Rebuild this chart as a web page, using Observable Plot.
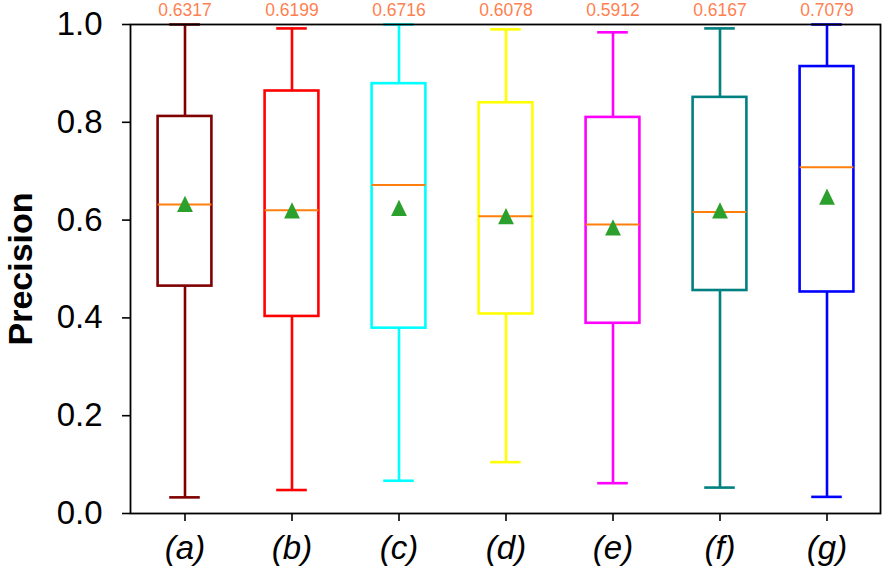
<!DOCTYPE html>
<html>
<head>
<meta charset="utf-8">
<script src="https://cdn.jsdelivr.net/npm/d3@7"></script>
<script src="https://cdn.jsdelivr.net/npm/@observablehq/plot@0.6"></script>
<style>
  body { margin: 0; background: #fff; }
  #chart svg { display: block; }
</style>
</head>
<body>
<div id="chart"></div>
<script>
const categories = ["(a)", "(b)", "(c)", "(d)", "(e)", "(f)", "(g)"];
const colors = ["#800000", "#ff0000", "#00ffff", "#ffff00", "#ff00ff", "#008080", "#0000ff"];
const whiskerLow = [0.033, 0.048, 0.067, 0.105, 0.062, 0.053, 0.034];
const q1 = [0.465, 0.403, 0.379, 0.408, 0.389, 0.456, 0.453];
const medians = [0.6317, 0.6199, 0.6716, 0.6078, 0.5912, 0.6167, 0.7079];
const q3 = [0.812, 0.864, 0.879, 0.840, 0.810, 0.851, 0.914];
const whiskerHigh = [1.0, 0.992, 1.0, 0.990, 0.984, 0.992, 1.0];
const means = [0.633, 0.620, 0.625, 0.608, 0.585, 0.620, 0.648];
const yTicks = [0, 0.2, 0.4, 0.6, 0.8, 1.0];

const data = categories.map((c, i) => ({
  cat: c, lo: whiskerLow[i], q1: q1[i], med: medians[i], q3: q3[i], hi: whiskerHigh[i], mean: means[i]
}));

const font = "'Liberation Sans', Arial, Helvetica, sans-serif";

// matplotlib-like triangle (bbox centred)
const triangle = {
  draw(context, size) {
    const s = Math.sqrt(size) / 2;
    context.moveTo(0, -s);
    context.lineTo(s * 0.97, s);
    context.lineTo(-s * 0.97, s);
    context.closePath();
  }
};

const boxInset = 26.6;
const capInset = 38.2;

const chart = Plot.plot({
  width: 886,
  height: 574,
  marginLeft: 130,
  marginRight: 6,
  marginTop: 24,
  marginBottom: 61,
  style: { fontFamily: font, background: "white", overflow: "visible" },
  x: { type: "band", domain: categories, padding: 0 },
  y: { domain: [0, 1] },
  color: { domain: categories, range: colors },
  marks: [
    // whiskers
    Plot.ruleX(data, { x: "cat", y1: "lo", y2: "q1", stroke: "cat", strokeWidth: 2.6 }),
    Plot.ruleX(data, { x: "cat", y1: "q3", y2: "hi", stroke: "cat", strokeWidth: 2.6 }),
    // caps
    Plot.tickY(data, { x: "cat", y: "lo", stroke: "cat", strokeWidth: 2.6, inset: capInset }),
    Plot.tickY(data, { x: "cat", y: "hi", stroke: "cat", strokeWidth: 2.6, inset: capInset }),
    // boxes
    Plot.barY(data, { x: "cat", y1: "q1", y2: "q3", fill: "none", stroke: "cat", strokeWidth: 2.6, insetLeft: boxInset, insetRight: boxInset }),
    // medians
    Plot.tickY(data, { x: "cat", y: "med", stroke: "#ff7f0e", strokeWidth: 2, inset: boxInset }),
    // means
    Plot.dot(data, { x: "cat", y: "mean", symbol: triangle, r: 9.2, fill: "#2ca02c", stroke: "none" }),
    // median labels above frame
    Plot.text(data, { x: "cat", text: d => d.med.toFixed(4), frameAnchor: "top", dy: -14, fill: "#ff7f50", fontSize: 17.5, lineAnchor: "middle" }),
    // axes
    Plot.axisY({ ticks: yTicks, tickFormat: d3.format(".1f"), fontSize: 33, tickSize: 8, tickPadding: 20, strokeWidth: 1.6, label: null, fill: "#000" }),
    Plot.axisX({ fontSize: 33, fontStyle: "italic", tickSize: 8, tickPadding: 14, strokeWidth: 1.6, label: null, fill: "#000" }),
    Plot.text(["Precision"], { frameAnchor: "left", dx: -109, rotate: -90, text: d => d, fontSize: 34, fontWeight: "bold", fill: "#000", textAnchor: "middle", lineAnchor: "middle" }),
    Plot.frame({ stroke: "#000", strokeWidth: 1.8 })
  ]
});

document.getElementById("chart").appendChild(chart);
</script>
</body>
</html>
